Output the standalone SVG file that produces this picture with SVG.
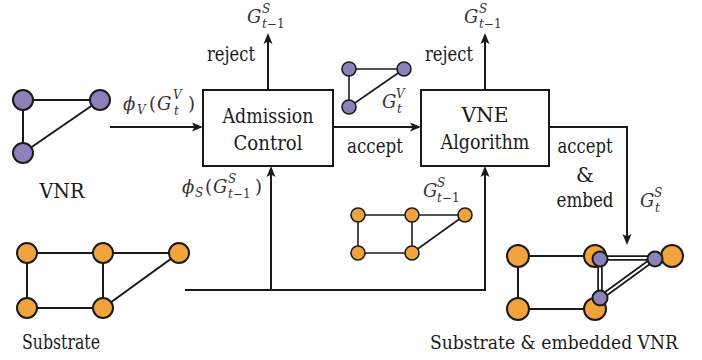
<svg xmlns="http://www.w3.org/2000/svg" width="702" height="360" viewBox="0 0 702 360">
<style>
text{font-family:"DejaVu Serif","Liberation Serif",serif}
.t{font-size:20px;fill:#1a1a1a}
.c{text-anchor:middle}
.m{font-size:18px;font-style:italic;fill:#333}
.s{font-size:12px;font-style:italic;fill:#333}
.u{font-style:normal}
.box{fill:#fff;stroke:#1a1a1a;stroke-width:2}
.ln{fill:none;stroke:#1a1a1a;stroke-width:2}
.ar{fill:none;stroke:#1a1a1a;stroke-width:2;marker-end:url(#ah)}
.e{stroke:#1a1a1a;stroke-width:2}
.es{stroke:#1a1a1a;stroke-width:1.6}
.o{fill:#f1a43e;stroke:#1a1a1a;stroke-width:2}
.os{fill:#f1a43e;stroke:#1a1a1a;stroke-width:1.6}
.p{fill:#8e81b9;stroke:#1a1a1a;stroke-width:2}
.ps{fill:#8e81b9;stroke:#1a1a1a;stroke-width:1.6}
.dbo{stroke:#1a1a1a;stroke-width:5.5;fill:none}
.dbi{stroke:#fff;stroke-width:2;fill:none}
</style>
<defs>
<marker id="ah" markerUnits="userSpaceOnUse" markerWidth="12" markerHeight="10" viewBox="0 0 12 10" refX="8" refY="5" orient="auto">
<path d="M0,0.5 L11,5 L0,9.5 L2.5,5 Z" fill="#1a1a1a"/>
</marker>
</defs>

<g id="connectors">
<line class="ar" x1="268" y1="90" x2="268" y2="36"/>
<line class="ar" x1="485" y1="90" x2="485" y2="36"/>
<line class="ar" x1="110" y1="127" x2="200" y2="127"/>
<line class="ar" x1="333" y1="127" x2="418" y2="127"/>
<path class="ar" d="M549,127 H627 V242"/>
<line class="ln" x1="185" y1="290" x2="486" y2="290"/>
<line class="ar" x1="271" y1="290" x2="271" y2="169"/>
<path class="ar" d="M485,291 V169"/>
</g>

<g id="admission-control">
<rect class="box" x="203" y="90" width="130" height="76"/>
<text class="t c" x="268" y="123" textLength="91" lengthAdjust="spacingAndGlyphs">Admission</text>
<text class="t c" x="268" y="150" textLength="69" lengthAdjust="spacingAndGlyphs">Control</text>
</g>

<g id="vne-algorithm">
<rect class="box" x="421" y="90" width="128" height="76"/>
<text class="t c" x="485" y="122" textLength="47" lengthAdjust="spacingAndGlyphs">VNE</text>
<text class="t c" x="485" y="149" textLength="89" lengthAdjust="spacingAndGlyphs">Algorithm</text>
</g>

<g id="labels">
<text class="t" x="207" y="61" textLength="48" lengthAdjust="spacingAndGlyphs">reject</text>
<text class="t" x="425" y="61" textLength="48" lengthAdjust="spacingAndGlyphs">reject</text>
<text class="t" x="347" y="153" textLength="56" lengthAdjust="spacingAndGlyphs">accept</text>
<text class="t c" x="585" y="153" textLength="55" lengthAdjust="spacingAndGlyphs">accept</text>
<text class="t c" x="585" y="182">&amp;</text>
<text class="t c" x="585" y="207" textLength="57" lengthAdjust="spacingAndGlyphs">embed</text>
<text class="t c" x="62" y="198" textLength="45" lengthAdjust="spacingAndGlyphs">VNR</text>
<text class="t c" x="61" y="349" textLength="78" lengthAdjust="spacingAndGlyphs">Substrate</text>
<text class="t c" x="554" y="349" font-size="19" style="font-size:19px" textLength="248" lengthAdjust="spacingAndGlyphs">Substrate &amp; embedded VNR</text>

<text class="m" x="247" y="23">G</text><text class="s" x="262" y="13">S</text><text class="s" x="262" y="28">t<tspan class="u">−1</tspan></text>
<text class="m" x="464" y="23">G</text><text class="s" x="479" y="13">S</text><text class="s" x="479" y="28">t<tspan class="u">−1</tspan></text>
<text class="m" x="423" y="197">G</text><text class="s" x="437" y="187">S</text><text class="s" x="437" y="202">t<tspan class="u">−1</tspan></text>
<text class="m" x="382" y="108">G</text><text class="s" x="396" y="98">V</text><text class="s" x="397" y="113">t</text>
<text class="m" x="640" y="207">G</text><text class="s" x="654" y="197">S</text><text class="s" x="655" y="212">t</text>

<text class="m" x="123" y="110">ϕ</text><text class="s" x="137" y="114">V</text><text class="m u" x="149" y="110">(</text><text class="m" x="157" y="110">G</text><text class="s" x="173" y="99">V</text><text class="s" x="174" y="115">t</text><text class="m u" x="188" y="110">)</text>
<text class="m" x="182" y="193">ϕ</text><text class="s" x="195" y="197">S</text><text class="m u" x="205" y="193">(</text><text class="m" x="213" y="193">G</text><text class="s" x="228" y="183">S</text><text class="s" x="228" y="198">t<tspan class="u">−1</tspan></text><text class="m u" x="255" y="193">)</text>
</g>

<g id="vnr">
<line class="e" x1="23" y1="100" x2="100" y2="100"/>
<line class="e" x1="23" y1="100" x2="23" y2="153"/>
<line class="e" x1="23" y1="153" x2="100" y2="100"/>
<circle class="p" cx="23" cy="100" r="10"/>
<circle class="p" cx="100" cy="100" r="10"/>
<circle class="p" cx="23" cy="153" r="10"/>
</g>

<g id="substrate">
<line class="e" x1="27" y1="253" x2="179" y2="253"/>
<line class="e" x1="27" y1="253" x2="27" y2="308"/>
<line class="e" x1="103" y1="253" x2="103" y2="308"/>
<line class="e" x1="27" y1="308" x2="103" y2="308"/>
<line class="e" x1="103" y1="308" x2="179" y2="253"/>
<circle class="o" cx="27" cy="253" r="10"/>
<circle class="o" cx="103" cy="253" r="10"/>
<circle class="o" cx="179" cy="253" r="10"/>
<circle class="o" cx="27" cy="308" r="10"/>
<circle class="o" cx="103" cy="308" r="10"/>
</g>

<g id="vnr-small">
<line class="es" x1="349" y1="69" x2="404" y2="69"/>
<line class="es" x1="349" y1="69" x2="349" y2="107"/>
<line class="es" x1="349" y1="107" x2="404" y2="69"/>
<circle class="ps" cx="349" cy="69" r="7"/>
<circle class="ps" cx="404" cy="69" r="7"/>
<circle class="ps" cx="349" cy="107" r="7"/>
</g>

<g id="substrate-small">
<line class="es" x1="358" y1="215" x2="465" y2="215"/>
<line class="es" x1="358" y1="215" x2="358" y2="253"/>
<line class="es" x1="412" y1="215" x2="412" y2="253"/>
<line class="es" x1="358" y1="253" x2="412" y2="253"/>
<line class="es" x1="412" y1="253" x2="465" y2="215"/>
<circle class="os" cx="358" cy="215" r="7"/>
<circle class="os" cx="412" cy="215" r="7"/>
<circle class="os" cx="465" cy="215" r="7"/>
<circle class="os" cx="358" cy="253" r="7"/>
<circle class="os" cx="412" cy="253" r="7"/>
</g>

<g id="substrate-embedded">
<line class="e" x1="518" y1="256" x2="595" y2="256"/>
<line class="e" x1="518" y1="256" x2="518" y2="309"/>
<line class="e" x1="518" y1="309" x2="595" y2="309"/>
<line class="e" x1="595" y1="309" x2="600" y2="305"/>
<circle class="o" cx="518" cy="256" r="11"/>
<circle class="o" cx="595" cy="256" r="11"/>
<circle class="o" cx="672" cy="256" r="11"/>
<circle class="o" cx="518" cy="309" r="11"/>
<circle class="o" cx="595" cy="309" r="11"/>
<path class="dbo" d="M600,258 L655,258 L600,298 Z"/>
<path class="dbi" d="M600,258 L655,258 L600,298 Z"/>
<circle class="p" cx="600" cy="259" r="7.5"/>
<circle class="p" cx="655" cy="259" r="7.5"/>
<circle class="p" cx="600" cy="298" r="7.5"/>
</g>
</svg>
